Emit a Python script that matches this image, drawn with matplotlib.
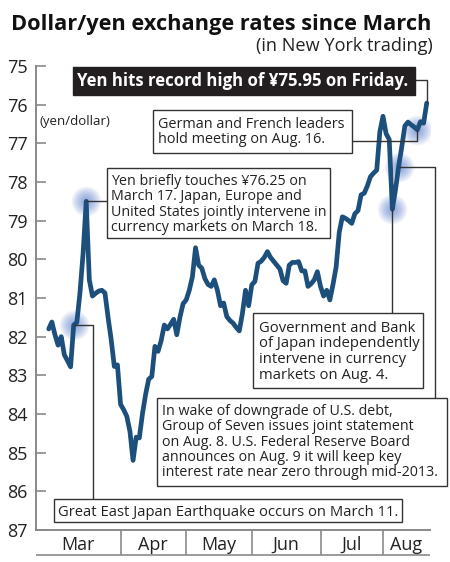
import matplotlib
matplotlib.use("Agg")
import matplotlib.pyplot as plt
from matplotlib.patches import Rectangle
from matplotlib.lines import Line2D
import numpy as np

# ---------------- data ----------------
months = ["Mar", "Apr", "May", "Jun", "Jul", "Aug"]
trading_days_per_month = [23, 21, 21, 22, 20, 15]  # Aug through the 19th
rates = [
    81.80, 81.62, 81.95, 82.22, 82.00, 82.47, 82.62, 82.78, 81.70, 81.63,
    80.87, 79.85, 78.50, 80.53, 80.95, 80.88, 80.82, 80.80, 80.87, 81.50,
    82.08, 82.77, 82.73,
    83.75, 83.89, 84.06, 84.45, 85.20, 84.60, 84.62, 84.00, 83.50, 83.10,
    83.03, 82.25, 82.38, 82.10, 81.70, 81.80, 81.68, 81.55, 81.95, 81.50,
    81.15,
    81.05, 80.80, 80.45, 79.70, 80.15, 80.23, 80.50, 80.65, 80.70, 80.53,
    80.80, 81.20, 81.13, 81.48, 81.58, 81.65, 81.76, 81.85, 81.40, 80.80,
    81.20,
    80.66, 80.57, 80.10, 80.05, 79.95, 79.80, 79.95, 80.05, 80.15, 80.25,
    80.55, 80.62, 80.15, 80.08, 80.08, 80.06, 80.30, 80.30, 80.70, 80.63,
    80.53, 80.32,
    80.70, 80.95, 80.80, 81.05, 80.65, 80.20, 79.30, 78.90, 78.94, 79.00,
    79.07, 78.82, 78.74, 78.33, 78.29, 78.10, 77.86, 77.77, 77.69, 76.70,
    76.30, 76.75, 76.90, 78.70, 78.20, 77.60, 77.10, 76.55, 76.45, 76.52,
    76.58, 76.65, 76.44, 76.48, 75.96,
]
y_ticks = list(range(75, 88))
# event indices (trading-day index)
idx_mar11, idx_mar17, idx_aug4, idx_aug9, idx_aug16 = 8, 12, 110, 112, 118
idx_last = len(rates) - 1

title = "Dollar/yen exchange rates since March"
subtitle = "(in New York trading)"
unit_label = "(yen/dollar)"
txt_record = "Yen hits record high of \u00a575.95 on Friday."
txt_german = ["German and French leaders", "hold meeting on Aug. 16."]
txt_mar17 = ["Yen briefly touches \u00a576.25 on", "March 17. Japan, Europe and",
             "United States jointly intervene in", "currency markets on March 18."]
txt_gov = ["Government and Bank", "of Japan independently",
           "intervene in currency", "markets on Aug. 4."]
txt_g7 = ["In wake of downgrade of U.S. debt,", "Group of Seven issues joint statement",
          "on Aug. 8. U.S. Federal Reserve Board", "announces on Aug. 9 it will keep key",
          "interest rate near zero through mid-2013."]
txt_quake = "Great East Japan Earthquake occurs on March 11."

# ---------------- layout ----------------
W, H = 450, 562
FONT = "Open Sans"
plt.rcParams["font.family"] = [FONT, "DejaVu Sans"]
LINE_C = "#1d4f7c"
GRAY = "#8a8a8a"
DARK = "#333333"
TXT = "#222222"

fig = plt.figure(figsize=(W / 100, H / 100), dpi=100)
fig.patch.set_facecolor("white")
renderer = fig.canvas.get_renderer()


def fx(px):
    return px / W


def fy(py):
    return 1 - py / H


def fit(t, target_w):
    """Scale the font of text t so its width is target_w pixels."""
    w = t.get_window_extent(renderer).width
    t.set_fontsize(t.get_fontsize() * target_w / w)
    return t


ax = fig.add_axes([fx(36), fy(530), fx(430) - fx(36), fy(66) - fy(530)])
x = np.arange(len(rates))
ax.plot(x, rates, color=LINE_C, lw=3.4, solid_joinstyle="round",
        solid_capstyle="round", zorder=5)
ax.set_xlim(-4.07, 122.05)
ax.set_ylim(87, 75)
for s in ["top", "right"]:
    ax.spines[s].set_visible(False)
ax.spines["left"].set_color(GRAY)
ax.spines["bottom"].set_color(GRAY)
ax.spines["left"].set_linewidth(1.4)
ax.spines["bottom"].set_linewidth(1.4)
ax.set_yticks(y_ticks)
ax.set_yticklabels([str(t) for t in y_ticks])
ax.tick_params(axis="y", direction="in", length=7, width=1.2, color=GRAY,
               labelsize=13, labelcolor=TXT, pad=6)
ax.set_xticks([])
ax.patch.set_alpha(0)

# glows
for idx in [idx_mar11, idx_mar17, idx_aug4, idx_aug9, idx_aug16]:
    for r in np.linspace(15, 3, 13):
        ax.scatter([idx], [rates[idx]], s=(2 * r * 0.72) ** 2, color="#4d72c9",
                   alpha=0.06, lw=0, zorder=2)


def data_to_px(i, v):
    dx, dy = ax.transData.transform((i, v))
    return dx, H - dy


def seg(points, lw=1.0, color=DARK):
    xs = [fx(p[0]) for p in points]
    ys = [fy(p[1]) for p in points]
    fig.add_artist(Line2D(xs, ys, transform=fig.transFigure, color=color, lw=lw,
                          zorder=3, solid_capstyle="butt"))


def box(x0, y0, x1, y1, fc="white", ec=DARK, lw=1.0, z=4):
    fig.add_artist(Rectangle((fx(x0), fy(y1)), fx(x1) - fx(x0), fy(y0) - fy(y1),
                             transform=fig.transFigure, fc=fc, ec=ec, lw=lw, zorder=z))


def lines_text(x0, baselines, lines, widest_px):
    ts = [fig.text(fx(x0), fy(b), t, fontsize=10, color=TXT, va="baseline",
                   ha="left", zorder=6) for b, t in zip(baselines, lines)]
    widths = [t.get_window_extent(renderer).width for t in ts]
    k = widest_px / max(widths)
    for t in ts:
        t.set_fontsize(10 * k)


# title
fit(fig.text(fx(11), fy(30), title, fontsize=18, fontweight="bold", color="#111111",
             va="baseline", ha="left"), 422)
fit(fig.text(fx(433), fy(51), subtitle, fontsize=12, color=TXT, va="baseline",
             ha="right"), 176)
fit(fig.text(fx(39.5), fy(125), unit_label, fontsize=9.5, color=TXT, va="baseline",
             ha="left"), 71)

# month axis
ends = np.cumsum(trading_days_per_month)
starts = np.concatenate([[0], ends[:-1]])
xl = ax.get_xlim()
bounds = [xl[0]] + list(starts[1:]) + [xl[1]]
for b in starts[1:]:
    bx, _ = data_to_px(b, 87)
    seg([(bx, 530), (bx, 555)], lw=1.2, color=GRAY)
lx, _ = data_to_px(xl[0], 87)
rx, _ = data_to_px(xl[1], 87)
seg([(lx, 555), (rx, 555)], lw=1.2, color=GRAY)
for m, a, b in zip(months, bounds[:-1], bounds[1:]):
    ax_, _ = data_to_px(a, 87)
    bx_, _ = data_to_px(b, 87)
    fig.text(fx((ax_ + bx_) / 2), fy(550), m, fontsize=13, color=TXT,
             ha="center", va="baseline")

# --- record high box
box(73, 67, 415, 95, fc="#231f20", ec="#231f20")
fit(fig.text(fx(243), fy(85.5), txt_record, fontsize=12.5, fontweight="bold",
             color="white", ha="center", va="baseline", zorder=6), 330)
px, py = data_to_px(idx_last, rates[idx_last])
seg([(415, 80), (px, 80), (px, py)])

# --- German/French box
box(153, 110, 352, 153)
lines_text(158, [128, 143.5], txt_german, 187)
px, py = data_to_px(idx_aug16, rates[idx_aug16])
seg([(352, 141), (px, 141), (px, py)])

# --- March 17 box
box(107, 168, 330, 238)
lines_text(111, [185, 200.3, 215.6, 231], txt_mar17, 217)
px, py = data_to_px(idx_mar17, rates[idx_mar17])
seg([(px, py), (107, py)])

# --- Government box
box(253, 313, 423, 388)
lines_text(259, [331.5, 347, 363, 379], txt_gov, 161)
px, py = data_to_px(idx_aug4, rates[idx_aug4])
seg([(px, py), (px, 313)])

# --- G7 box
box(157, 398, 447, 486)
lines_text(162, [415, 430.3, 445.5, 460.7, 476], txt_g7, 275)
px, py = data_to_px(idx_aug9, rates[idx_aug9])
seg([(px, py), (435, py), (435, 398)])

# --- Earthquake box
box(54, 499, 402, 522)
lines_text(58, [516.5], [txt_quake], 339)
px, py = data_to_px(idx_mar11, rates[idx_mar11])
seg([(px, py), (93, py), (93, 499)])

fig.savefig("out.png", dpi=100)
